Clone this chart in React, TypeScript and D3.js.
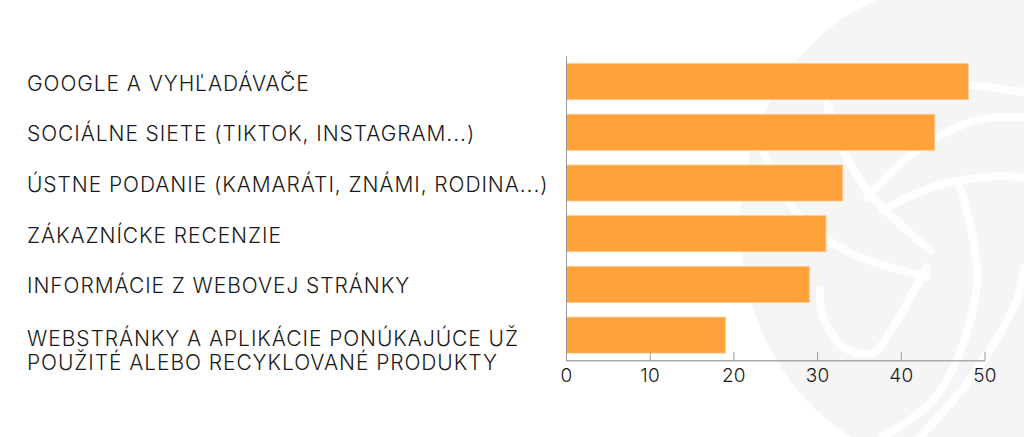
import React from "react";
import * as d3 from "d3";

const categories: string[][] = [
  ["GOOGLE A VYHĽADÁVAČE"],
  ["SOCIÁLNE SIETE (TIKTOK, INSTAGRAM...)"],
  ["ÚSTNE PODANIE (KAMARÁTI, ZNÁMI, RODINA...)"],
  ["ZÁKAZNÍCKE RECENZIE"],
  ["INFORMÁCIE Z WEBOVEJ STRÁNKY"],
  ["WEBSTRÁNKY A APLIKÁCIE PONÚKAJÚCE UŽ", "POUŽITÉ ALEBO RECYKLOVANÉ PRODUKTY"],
];
const values: number[] = [48, 44, 33, 31, 29, 19];
const xTicks: number[] = [0, 10, 20, 30, 40, 50];

const W = 1024;
const H = 437;
const FONT = "Inter, 'Noto Sans', sans-serif";

// watermark curve shapes (decorative)
const wmCurves: [number, number][][] = [
  [[750, 87], [850, 80], [940, 82], [1024, 92]],
  [[750, 100], [767, 160], [800, 217], [850, 253], [927, 277]],
  [[827, 103], [843, 150], [873, 197], [930, 250]],
  [[867, 197], [917, 150], [977, 120], [1024, 117]],
  [[883, 210], [933, 187], [983, 177], [1024, 177]],
  [[960, 187], [977, 267], [967, 333], [933, 400], [883, 437]],
  [[820, 290], [823, 317], [843, 347], [873, 353], [893, 327], [927, 267]],
  [[1024, 267], [1017, 300], [1000, 333], [967, 383], [920, 437]],
];

export default function App() {
  const x = d3.scaleLinear().domain([0, 50]).range([566.5, 985]);
  const keys = categories.map((c) => c.join(" "));
  const y = d3
    .scaleBand<string>()
    .domain(keys)
    .range([56, 360.7])
    .paddingInner(0.29)
    .paddingOuter(0.15);
  const line = d3.line().curve(d3.curveCatmullRom.alpha(0.5));
  const axisY = 360.7;

  return (
    <svg
      width={W}
      height={H}
      style={{ position: "absolute", left: 0, top: 0, background: "#fff" }}
    >
      <g>
        <ellipse cx={950} cy={225} rx={210} ry={240} fill="#f5f5f5" />
        {wmCurves.map((pts, i) => (
          <path
            key={i}
            d={line(pts) || ""}
            fill="none"
            stroke="#fff"
            strokeWidth={8}
            strokeLinecap="round"
            opacity={0.9}
          />
        ))}
      </g>
      {categories.map((lines, i) => {
        const cy = (y(keys[i]) as number) + y.bandwidth() / 2;
        return (
          <text
            key={i}
            x={27}
            y={cy + (lines.length > 1 ? 3 : 1)}
            fontFamily={FONT}
            fontSize={21}
            fontWeight={300}
            letterSpacing={0.92}
            fill="#1a1a1a"
            dominantBaseline="central"
          >
            {lines.map((l, j) => (
              <tspan key={j} x={27} dy={j === 0 ? 0 : 24}>
                {l}
              </tspan>
            ))}
          </text>
        );
      })}
      {values.map((v, i) => (
        <rect
          key={i}
          x={x(0)}
          y={y(keys[i])}
          width={x(v) - x(0)}
          height={y.bandwidth()}
          fill="#FFA23A"
          stroke="#FFC58A"
          strokeWidth={0.8}
        />
      ))}
      <line x1={x(0)} x2={x(0)} y1={56} y2={axisY} stroke="#999" strokeWidth={1} />
      <line x1={x(0)} x2={x(50)} y1={axisY} y2={axisY} stroke="#aaa" strokeWidth={1.5} />
      {xTicks.map((t) => (
        <g key={t}>
          <line x1={x(t)} x2={x(t)} y1={axisY - 9} y2={axisY} stroke="#999" strokeWidth={1} />
          <text
            x={x(t)}
            y={375}
            textAnchor="middle"
            dominantBaseline="central"
            fontFamily={FONT}
            fontSize={19}
            fontWeight={300}
            letterSpacing={0.3}
            fill="#1a1a1a"
          >
            {t}
          </text>
        </g>
      ))}
    </svg>
  );
}
